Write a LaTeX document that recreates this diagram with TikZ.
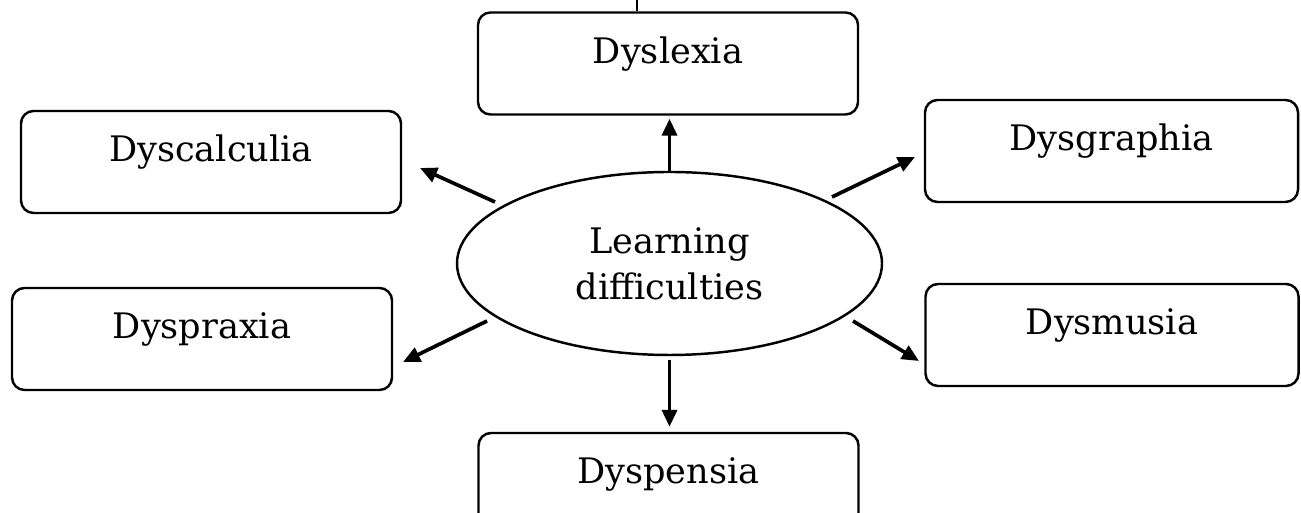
\documentclass[tikz,border=0pt]{standalone}
\usepackage{fontspec}
\setmainfont{DejaVu Serif}
\usepackage{tikz}
\usetikzlibrary{shapes.geometric}
\usetikzlibrary{arrows.meta}

\tikzset{
	dysbox/.style={draw,line width=1.4pt,rounded corners=0.25cm,minimum width=7.6cm,minimum height=2.04cm,
		text height=0.5cm,text depth=0.5cm,font=\fontsize{20}{26}\selectfont},
	centreoval/.style={draw,ellipse,line width=1.4pt,minimum width=8.5cm,minimum height=3.66cm,inner sep=0pt,
		align=center,font=\fontsize{20}{26}\selectfont},
	pointer/.style={line width=2.1pt,-{Triangle[length=3.4mm,width=3mm]}}
}

\begin{document}
\begin{tikzpicture}
		\useasboundingbox (0,0) rectangle (26.02,10.26);
		
		% centre and the six kinds
		\node[centreoval] (ld) at (13.39,4.99) {Learning\\difficulties};
		\node[dysbox] (dyslexia) at (13.36,8.99) {Dyslexia};
		\node[dysbox] (dyscalc) at (4.22,7.02) {Dyscalculia};
		\node[dysbox] (dyspraxia) at (4.04,3.48) {Dyspraxia};
		\node[dysbox,minimum width=7.46cm] (dysgraph) at (22.23,7.24) {Dysgraphia};
		\node[dysbox,minimum width=7.46cm] (dysmusia) at (22.24,3.56) {Dysmusia};
		\node[dysbox] (dyspensia) at (13.37,0.58) {Dyspensia};
		
		% line leaving the top
		\coordinate (topend) at (12.74,10.4);
		\draw[line width=1.4pt] (topend) -- (topend |- dyslexia.north);
		
		% arrow ends
		\coordinate (s1) at (9.90,6.22);  \coordinate (t1) at (8.40,6.90);
		\coordinate (s2) at (16.64,6.32); \coordinate (t2) at (18.30,7.12);
		\coordinate (s3) at (9.74,3.84);  \coordinate (t3) at (8.06,3.02);
		\coordinate (s4) at (17.06,3.84); \coordinate (t4) at (18.38,3.04);
		
		\draw[pointer] (ld.north) -- ([yshift=-0.06cm]dyslexia.south -| ld.north);
		\draw[pointer] ([yshift=-0.08cm]ld.south) -- ([yshift=0.1cm]dyspensia.north -| ld.south);
		\draw[pointer] (s1) -- (t1);
		\draw[pointer] (s2) -- (t2);
		\draw[pointer] (s3) -- (t3);
		\draw[pointer] (s4) -- (t4);
		
	\end{tikzpicture}
\end{document}
